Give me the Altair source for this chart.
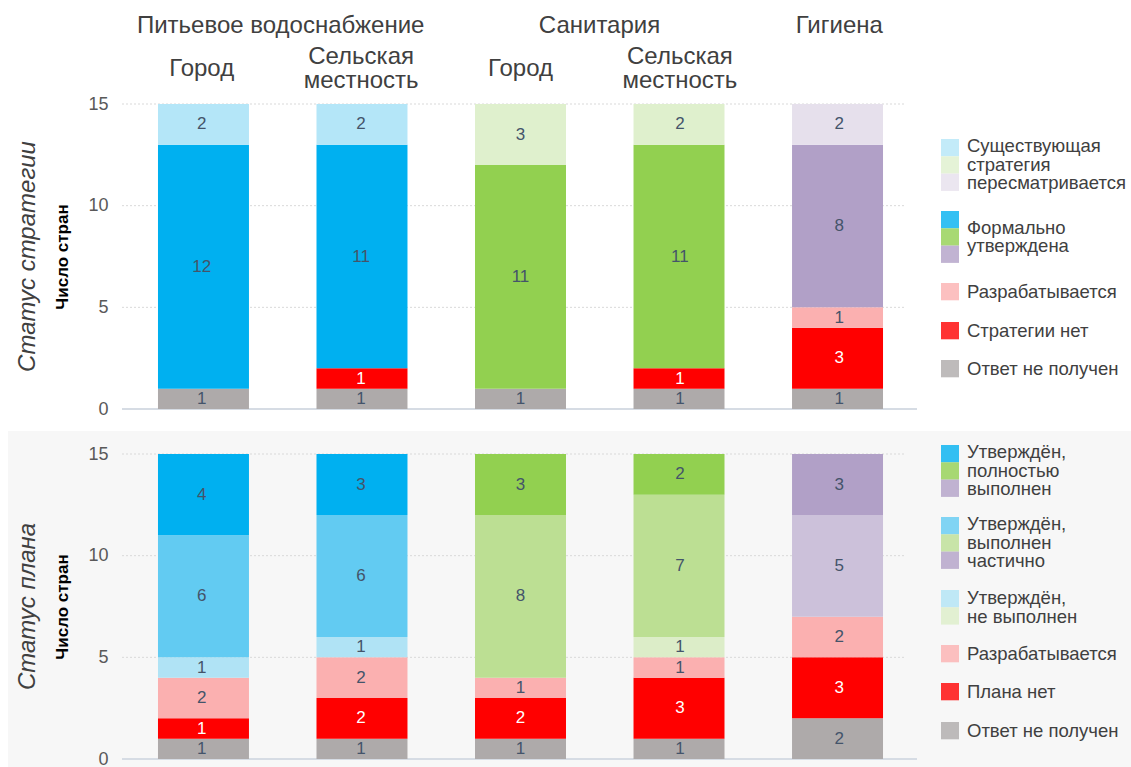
import altair as alt
import pandas as pd

# ---------------- data ----------------
cats = ["w_urban", "w_rural", "s_urban", "s_rural", "hyg"]
cat_sector = ["water", "water", "sanit", "sanit", "hyg"]
sub_labels = ["Город", "Сельская\nместность", "Город", "Сельская\nместность", ""]
pair_headers = ["Питьевое водоснабжение", "Санитария"]
pair_anchor = ["w_urban", "s_urban"]
single_headers = ["Гигиена"]
single_anchor = ["hyg"]

# strategy status (bottom -> top)
strat_keys = ["no_resp", "none", "dev", "approved", "revising"]
strat_no_resp = [1, 1, 1, 1, 1]
strat_none = [0, 1, 0, 1, 3]
strat_dev = [0, 0, 0, 0, 1]
strat_approved = [12, 11, 11, 11, 8]
strat_revising = [2, 2, 3, 2, 2]

# plan status (bottom -> top)
plan_keys = ["no_resp", "none", "dev", "not_done", "partial", "full"]
plan_no_resp = [1, 1, 1, 1, 2]
plan_none = [1, 2, 2, 3, 3]
plan_dev = [2, 2, 1, 1, 2]
plan_not_done = [1, 1, 0, 1, 0]
plan_partial = [6, 6, 8, 7, 5]
plan_full = [4, 3, 3, 2, 3]

common_colors = {"no_resp": "#aeaaaa", "none": "#ff0000", "dev": "#fbb0b0"}
sector_colors = {
    "water": {"approved": "#00b0f0", "revising": "#b4e6f8", "full": "#00b0f0",
              "partial": "#62cbf2", "not_done": "#b0e3f5"},
    "sanit": {"approved": "#92d050", "revising": "#dff0cd", "full": "#92d050",
              "partial": "#bcdf93", "not_done": "#dcedc8"},
    "hyg": {"approved": "#b1a0c7", "revising": "#e6e0ec", "full": "#b1a0c7",
            "partial": "#ccc1da", "not_done": "#e6e0ec"},
}

# legends: label, colours (top->bottom), top offset in px from the plot top
strat_legend_labels = ["Существующая\nстратегия\nпересматривается", "Формально\nутверждена",
                       "Разрабатывается", "Стратегии нет", "Ответ не получен"]
strat_legend_cols = [["#b4e6f8", "#dff0cd", "#e6e0ec"], ["#00b0f0", "#92d050", "#b1a0c7"],
                     ["#fbb0b0"], ["#ff0000"], ["#aeaaaa"]]
strat_legend_top = [35, 107, 179, 218, 256]

plan_legend_labels = ["Утверждён,\nполностью\nвыполнен", "Утверждён,\nвыполнен\nчастично",
                      "Утверждён,\nне выполнен", "Разрабатывается", "Плана нет", "Ответ не получен"]
plan_legend_cols = [["#00b0f0", "#92d050", "#b1a0c7"], ["#62cbf2", "#bcdf93", "#b1a0c7"],
                    ["#b0e3f5", "#dcedc8"], ["#fbb0b0"], ["#ff0000"], ["#aeaaaa"]]
plan_legend_top = [-9, 63, 136, 191, 229, 268]
SW = 17.3   # swatch height
LLH = 18.5  # legend line height
LFS = 18.5  # legend font size

W, H = 797, 305
FONT = "Liberation Sans"
TXT = "#404040"
HFS = 24    # header font size
HLH = 23.5  # header line height


def build(keys, series):
    rows = []
    for i, c in enumerate(cats):
        cum = 0
        for k, vals in zip(keys, series):
            v = vals[i]
            if v <= 0:
                continue
            col = common_colors.get(k) or sector_colors[cat_sector[i]][k]
            rows.append(dict(cat=c, key=k, value=v, y0=cum, y1=cum + v, mid=cum + v / 2,
                             color=col, tcolor="#ffffff" if k == "none" else "#44546a"))
            cum += v
    return pd.DataFrame(rows)


def legend_frames(labels, cols, tops):
    sw, tx = [], []
    for lab, cl, t in zip(labels, cols, tops):
        for j, c in enumerate(cl):
            sw.append(dict(ly0=t + j * SW, ly1=t + (j + 1) * SW, color=c))
        n = lab.count("\n") + 1
        tx.append(dict(lmid=t + len(cl) * SW / 2 - (n - 1) * LLH / 2, label=lab))
    return pd.DataFrame(sw), pd.DataFrame(tx)


xscale = alt.Scale(domain=cats, paddingInner=0.426, paddingOuter=0.227)
yscale = alt.Scale(domain=[0, 15], nice=False)
lscale = alt.Scale(domain=[0, H], range=[0, H], nice=False, zero=False)


def panel(df, legend_labels, legend_cols, legend_tops, side_title, gray):
    layers = []
    if gray:
        layers.append(alt.Chart(pd.DataFrame({"k": [0]})).mark_rect(color="#f7f7f7").encode(
            x=alt.value(-114), x2=alt.value(1009), y=alt.value(-23), y2=alt.value(330)))
    layers.append(alt.Chart(pd.DataFrame({"g": [5, 10, 15]})).mark_rule(
        color="#d9d9d9", strokeDash=[2, 2], strokeWidth=1).encode(
        y=alt.Y("g:Q", scale=yscale, axis=None), x=alt.value(0), x2=alt.value(783)))
    layers.append(alt.Chart(pd.DataFrame({"g": [0]})).mark_rule(
        color="#d6dce4", strokeWidth=2).encode(
        y=alt.Y("g:Q", scale=yscale, axis=None), x=alt.value(0), x2=alt.value(795)))
    layers.append(alt.Chart(df).mark_bar().encode(
        x=alt.X("cat:N", scale=xscale, axis=None, sort=cats),
        y=alt.Y("y0:Q", scale=yscale, axis=alt.Axis(
            values=[0, 5, 10, 15], grid=False, domain=False, ticks=False,
            labelFontSize=18, labelColor="#595959", labelPadding=14, labelFont=FONT,
            title="Число стран", titleFontSize=17, titleFontWeight="bold", titleColor="#000000",
            titlePadding=16, titleFont=FONT, zindex=1)),
        y2="y1:Q",
        color=alt.Color("color:N", scale=None)))
    layers.append(alt.Chart(df).mark_text(fontSize=17, baseline="middle", font=FONT).encode(
        x=alt.X("cat:N", scale=xscale, axis=None, sort=cats),
        y=alt.Y("mid:Q", scale=yscale, axis=None),
        text="value:Q",
        color=alt.Color("tcolor:N", scale=None)))
    layers.append(alt.Chart(pd.DataFrame({"t": [side_title]})).mark_text(
        angle=270, fontSize=24, fontStyle="italic", font=FONT, color=TXT,
        align="center", baseline="middle").encode(
        x=alt.value(-94), y=alt.value(H / 2), text="t:N"))
    sw, tx = legend_frames(legend_labels, legend_cols, legend_tops)
    layers.append(alt.Chart(sw).mark_rect(opacity=0.8).encode(
        x=alt.value(819), x2=alt.value(837),
        y=alt.Y("ly0:Q", scale=lscale, axis=None), y2="ly1:Q",
        color=alt.Color("color:N", scale=None)))
    layers.append(alt.Chart(tx).mark_text(
        align="left", baseline="middle", fontSize=LFS, lineHeight=LLH, lineBreak="\n",
        font=FONT, color=TXT).encode(
        x=alt.value(845), y=alt.Y("lmid:Q", scale=lscale, axis=None), text="label:N"))
    return layers


top_layers = panel(build(strat_keys, [strat_no_resp, strat_none, strat_dev, strat_approved, strat_revising]),
                   strat_legend_labels, strat_legend_cols, strat_legend_top, "Статус стратегии", False)
sub_df = pd.DataFrame({"cat": cats, "label": sub_labels})
sub_df["sy"] = [-35 - (lab.count("\n")) * HLH / 2 for lab in sub_labels]
top_layers.append(alt.Chart(sub_df).mark_text(
    fontSize=HFS, lineHeight=HLH, lineBreak="\n", baseline="middle", font=FONT, color=TXT).encode(
    x=alt.X("cat:N", scale=xscale, axis=None, sort=cats),
    y=alt.Y("sy:Q", scale=lscale, axis=None), text="label:N"))
top_layers.append(alt.Chart(pd.DataFrame({"cat": pair_anchor, "label": pair_headers})).mark_text(
    fontSize=HFS, baseline="middle", font=FONT, color=TXT, dx=79).encode(
    x=alt.X("cat:N", scale=xscale, axis=None, sort=cats), y=alt.value(-78), text="label:N"))
top_layers.append(alt.Chart(pd.DataFrame({"cat": single_anchor, "label": single_headers})).mark_text(
    fontSize=HFS, baseline="middle", font=FONT, color=TXT).encode(
    x=alt.X("cat:N", scale=xscale, axis=None, sort=cats), y=alt.value(-78), text="label:N"))

bottom_layers = panel(build(plan_keys, [plan_no_resp, plan_none, plan_dev, plan_not_done, plan_partial, plan_full]),
                      plan_legend_labels, plan_legend_cols, plan_legend_top, "Статус плана", True)

top = alt.layer(*top_layers).resolve_scale(x="independent", y="independent").properties(width=W, height=H)
bottom = alt.layer(*bottom_layers).resolve_scale(x="independent", y="independent").properties(width=W, height=H)

chart = alt.vconcat(top, bottom, spacing=13).properties(
    padding={"left": 8, "top": 14, "right": 0, "bottom": 0}
).configure(font=FONT).configure_view(stroke=None)

chart.save("out.html", embed_options={"renderer": "svg", "actions": False})
